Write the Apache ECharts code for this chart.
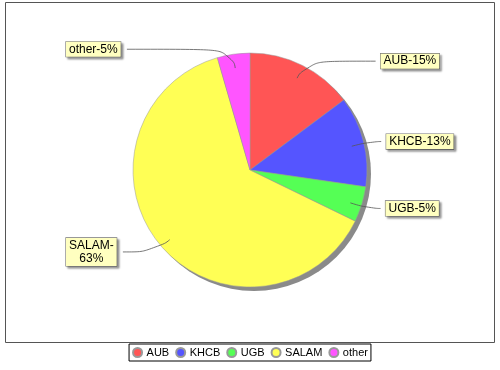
<!DOCTYPE html>
<html>
<head>
<meta charset="utf-8">
<script src="https://cdn.jsdelivr.net/npm/echarts@6/dist/echarts.min.js"></script>
<style>html,body{margin:0;padding:0;background:#fff}#c{width:500px;height:370px}</style>
</head>
<body>
<div id="c"></div>
<script>
const categories = ['AUB', 'KHCB', 'UGB', 'SALAM', 'other'];
const values = [14.8, 12.5, 4.9, 63.3, 4.5];
const colors = ['#FF5555', '#5555FF', '#55FF55', '#FFFF55', '#FF55FF'];

// label-line style per category (horizontal segment length / side)
const lineStyleByName = {
  AUB: {length2: 70},
  KHCB: {length2: 11},
  UGB: {length2: 12},
  SALAM: {edge: true},
  other: {edge: true}
};

const total = values.reduce((a, b) => a + b, 0);
const chart = echarts.init(document.getElementById('c'), null, {renderer: 'canvas'});

const labelData = categories.map((n, i) => {
  const d = {name: n, value: values[i]};
  const s = lineStyleByName[n] || {};
  if (s.edge) {
    d.label = {alignTo: 'edge', edgeDistance: 66};
  } else if (s.length2 != null) {
    d.labelLine = {length2: s.length2};
  }
  return d;
});

chart.setOption({
  animation: false,
  backgroundColor: '#fff',
  color: colors,
  graphic: [{
    type: 'rect',
    shape: {x: 5.5, y: 2.5, width: 489, height: 340},
    style: {fill: 'none', stroke: '#555', lineWidth: 1},
    silent: true, z: 0
  }],
  legend: {
    data: categories,
    left: 'center',
    top: 344,
    icon: 'circle',
    itemWidth: 10,
    itemHeight: 9,
    itemGap: 6,
    padding: [3, 3],
    borderColor: '#000',
    borderWidth: 1,
    selectedMode: false,
    textStyle: {fontFamily: 'Liberation Sans', fontSize: 11, color: '#000', padding: [0, 0, 0, -1]}
  },
  series: [
    {
      type: 'pie', name: 'main',
      center: [250, 170], radius: 117,
      startAngle: 90, clockwise: true,
      silent: true, z: 2,
      label: {show: false}, labelLine: {show: false},
      itemStyle: {borderColor: '#999', borderWidth: 0.5},
      emphasis: {disabled: true},
      data: categories.map((n, i) => ({name: n, value: values[i]}))
    },
    {
      type: 'pie', name: 'shadow',
      center: [254, 174], radius: 117,
      silent: true, z: 1,
      label: {show: false}, labelLine: {show: false},
      itemStyle: {color: '#8a8a8a', borderWidth: 0},
      emphasis: {disabled: true},
      data: [{name: 'shadow', value: total}]
    },
    {
      type: 'pie', name: 'labels',
      center: [250, 172], radius: 105,
      startAngle: 90, clockwise: true,
      silent: true, z: 3,
      itemStyle: {color: 'rgba(0,0,0,0)', borderWidth: 0},
      emphasis: {disabled: true},
      avoidLabelOverlap: true,
      label: {
        show: true,
        position: 'outside',
        alignTo: 'labelLine',
        distanceToLabelLine: 5,
        formatter: function (p) {
          const pct = Math.round(p.percent);
          const txt = p.name + '-' + pct + '%';
          if (txt.length > 8) {
            return '{c|' + p.name + '-}\n{c|' + pct + '%}';
          }
          return txt;
        },
        rich: {c: {align: 'center', fontFamily: 'Liberation Sans', fontSize: 12, color: '#000', lineHeight: 13}},
        fontFamily: 'Liberation Sans',
        fontSize: 12,
        lineHeight: 13,
        color: '#000',
        backgroundColor: '#FFFFC0',
        borderColor: '#777',
        borderWidth: 0.6,
        padding: [1, 3, 1, 3],
        shadowColor: 'rgba(0,0,0,0.35)',
        shadowOffsetX: 2,
        shadowOffsetY: 2,
        shadowBlur: 2
      },
      labelLine: {
        show: true,
        length: 19,
        length2: 8,
        smooth: 0.7,
        lineStyle: {color: '#555', width: 0.8}
      },
      data: labelData
    }
  ]
});
</script>
</body>
</html>
